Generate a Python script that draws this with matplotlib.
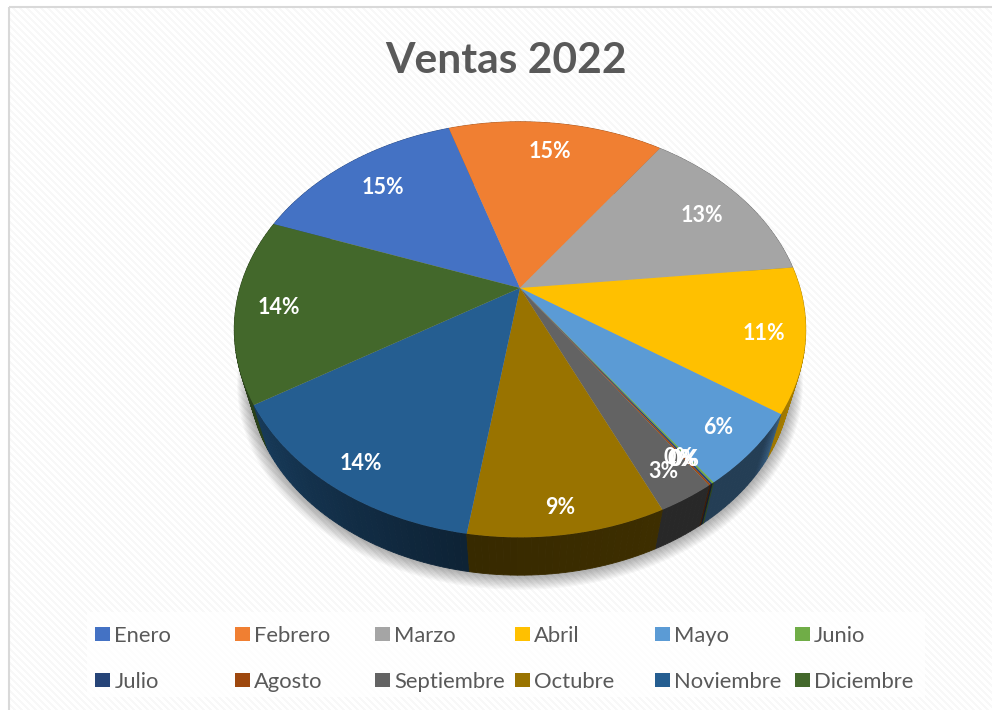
import numpy as np
import matplotlib
matplotlib.use("Agg")
import matplotlib.pyplot as plt
from matplotlib.patches import Rectangle
from matplotlib.transforms import Transform

plt.rcParams['font.family'] = ['Lato', 'DejaVu Sans']

# ---- data ----
TITLE = "Ventas 2022"
MONTHS = ["Enero", "Febrero", "Marzo", "Abril", "Mayo", "Junio", "Julio",
          "Agosto", "Septiembre", "Octubre", "Noviembre", "Diciembre"]
SALES = [14.6, 14.8, 13.5, 11.2, 5.7, 0.1, 0.1, 0.1, 2.7, 9.3, 13.8, 14.4]

# ---- style ----
COLORS = ["#4472C4", "#F07F32", "#A5A5A5", "#FFC000", "#5B9BD5", "#70AD47",
          "#264478", "#9E480E", "#636363", "#997300", "#255E91", "#43682B"]
TEXT = "#595959"
LABEL_XY = [(383, 188), (550, 152), (702, 215), (764, 333), (718, 428),
            (679, 458), (682, 459), (685, 460), (663, 472), (560, 508),
            (361, 463), (279, 308)]
SHADE_ANGLE = [-250, -215, -190, -148, -125, -98, -65, -40, -34, -10, 60]
SHADE_VALUE = [0.70, 0.70, 0.68, 0.62, 0.50, 0.36, 0.40, 0.40, 0.62, 0.72, 0.72]


class PerspectiveDisc(Transform):
    """Maps the unit pie disc to a tilted disc, in pixel-like data units."""
    input_dims = output_dims = 2
    is_affine = False

    def __init__(self, cx, cy, a, b, k):
        super().__init__()
        self.p = (cx, cy, a, b, k)

    def transform_non_affine(self, values):
        cx, cy, a, b, k = self.p
        v = np.asarray(values, float)
        w = 1 + k * v[:, 1]
        return np.column_stack([cx + a * v[:, 0] / w, cy - b * v[:, 1] / w])


fig = plt.figure(figsize=(9.92, 7.10), dpi=100, facecolor="white")
ax = fig.add_axes([0, 0, 1, 1])

wedges, _ = ax.pie(SALES, colors=COLORS, startangle=160, counterclock=False,
                   wedgeprops=dict(linewidth=0, zorder=5))
ax.set_aspect("auto")
ax.set_xlim(0, 992)
ax.set_ylim(710, 0)
ax.axis("off")

A, B, K = 280, 199.5, 0.2
top = PerspectiveDisc(520, 288, A, B, K)
bottom = PerspectiveDisc(520, 339, A * 0.947, B * 0.947, K)

# background texture and frame
yy, xx = np.mgrid[0:710, 0:992]
stripes = np.where((xx - yy) % 7 < 3.5, 1.0, 0.972)
ax.imshow(stripes, cmap="gray", vmin=0, vmax=1, extent=(0, 992, 710, 0),
          aspect="auto", interpolation="nearest", zorder=0)
ax.set_xlim(0, 992)
ax.set_ylim(710, 0)
for art in (Rectangle((0, 0), 992, 7, fc="white", ec="none", zorder=0.5),
            Rectangle((0, 0), 9, 710, fc="white", ec="none", zorder=0.5),
            Rectangle((9, 7), 1200, 1200, fc="none", ec="#D9D9D9", lw=1.5, zorder=0.6)):
    ax.add_patch(art)

# soft shadow under the pie
circle = np.linspace(0, 2 * np.pi, 361)
unit = np.column_stack([np.cos(circle), np.sin(circle)])
for i in range(12):
    s = 1.045 - i * 0.004
    ring = PerspectiveDisc(520, 343 - i * 0.4, A * 0.947 * s, B * 0.947 * s, K)
    xy = ring.transform_non_affine(unit)
    ax.fill(xy[:, 0], xy[:, 1], color="black", alpha=0.032, lw=0, zorder=1)

# side wall of every slice, built from the wedges' own angles
strips = []
for w in wedges:
    th = np.linspace(w.theta1, w.theta2, max(2, int((w.theta2 - w.theta1) / 1.2) + 2))
    base = np.array(matplotlib.colors.to_rgb(w.get_facecolor()))
    for t0, t1 in zip(th[:-1], th[1:]):
        t = np.radians([t0, t1])
        u = np.column_stack([np.cos(t), np.sin(t)])
        a, b = top.transform_non_affine(u), bottom.transform_non_affine(u)
        quad = np.vstack([a, b[::-1]])
        mid = (t0 + t1) / 2
        mid = (mid + 180) % 360 - 180
        mid = mid - 360 if mid > 60 else mid
        f = np.interp(mid, SHADE_ANGLE, SHADE_VALUE)
        strips.append((quad[:, 1].mean(), quad, tuple(base * f)))
for _, quad, col in sorted(strips, key=lambda s: s[0]):
    ax.fill(quad[:, 0], quad[:, 1], color=col, lw=0.6, zorder=2)

for w in wedges:
    w.set_transform(top + ax.transData)

# percentage labels
total = sum(SALES)
for v, (x, y) in zip(SALES, LABEL_XY):
    ax.text(x, y, f"{v / total * 100:.0f}%", color="white", fontsize=15.5,
            fontweight="bold", ha="center", va="center", zorder=6)

ax.text(506, 61, TITLE, color=TEXT, fontsize=30.6, fontweight="bold",
        ha="center", va="center", zorder=6)

# legend
ax.add_patch(Rectangle((87, 612), 838, 85, fc="white", ec="none", alpha=0.75, zorder=3))
order = [i for pair in zip(range(6), range(6, 12)) for i in pair]
leg = ax.legend([wedges[i] for i in order], [MONTHS[i] for i in order], ncols=6,
                loc="upper left", bbox_to_anchor=(95, 626), bbox_transform=ax.transData,
                frameon=False, fontsize=15.8, labelcolor=TEXT, borderpad=0, borderaxespad=0,
                handlelength=0.68, handleheight=0.62, handletextpad=0.2,
                labelspacing=1.17, columnspacing=0.45)
leg.set_zorder(6)
leg._legend_handle_box.mode = "equal"

fig.savefig("out.png", dpi=100)
